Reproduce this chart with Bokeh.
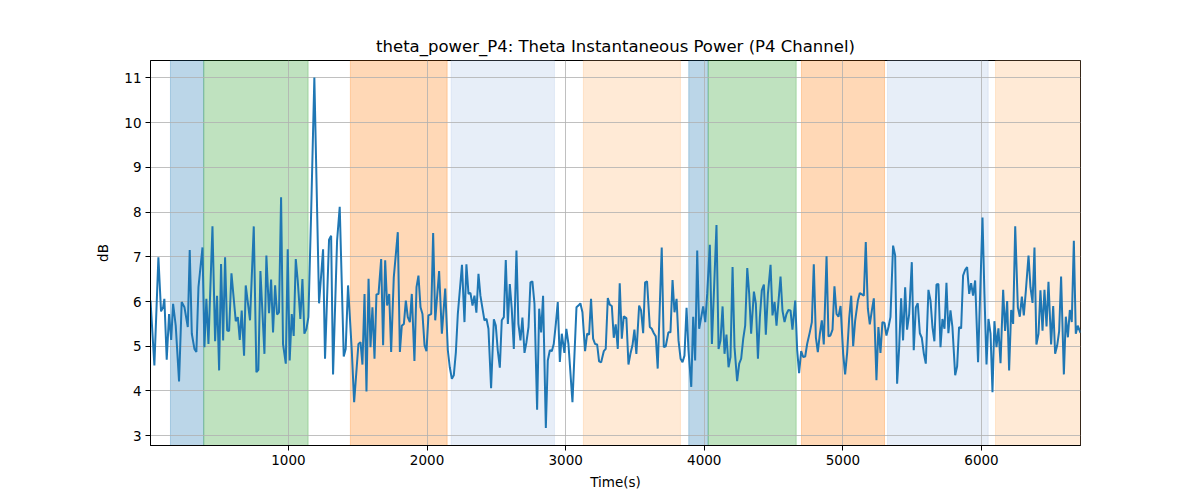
from bokeh.plotting import figure
from bokeh.models import Range1d, FixedTicker, BoxAnnotation
from bokeh.embed import file_html
from bokeh.resources import INLINE

# ---- data ----
time_s = [5, 33, 62, 81, 96, 105, 122, 139, 154, 168, 187, 211, 230, 250, 274, 288, 303, 322, 336, 351,
          380, 394, 408, 423, 452, 471, 485, 500, 514, 529, 543, 558, 572, 589, 620, 635, 649, 663, 680, 692,
          723, 750, 769, 783, 798, 827, 841, 860, 875, 889, 904, 918, 932, 947, 961, 981, 995, 1009, 1024, 1038,
          1053, 1067, 1086, 1101, 1115, 1130, 1144, 1163, 1187, 1221, 1250, 1264, 1293, 1308, 1322, 1351, 1370, 1399, 1413, 1430,
          1457, 1474, 1505, 1520, 1534, 1549, 1563, 1578, 1592, 1606, 1621, 1635, 1650, 1669, 1683, 1698, 1712, 1727, 1741, 1760,
          1789, 1804, 1818, 1833, 1847, 1861, 1876, 1890, 1909, 1924, 1938, 1953, 1967, 1982, 1996, 2010, 2030, 2044, 2059, 2087,
          2107, 2131, 2150, 2164, 2179, 2193, 2208, 2222, 2252, 2270, 2284, 2299, 2313, 2328, 2342, 2356, 2371, 2385, 2400, 2414,
          2429, 2443, 2462, 2482, 2496, 2510, 2525, 2539, 2554, 2568, 2583, 2597, 2611, 2626, 2645, 2659, 2674, 2688, 2703, 2717,
          2732, 2746, 2760, 2775, 2794, 2809, 2823, 2837, 2857, 2871, 2886, 2900, 2914, 2929, 2943, 2958, 2972, 2991, 3005, 3020,
          3049, 3078, 3092, 3106, 3121, 3140, 3155, 3169, 3183, 3198, 3212, 3227, 3241, 3256, 3275, 3289, 3304, 3318, 3333, 3347,
          3361, 3376, 3390, 3405, 3419, 3438, 3453, 3467, 3482, 3496, 3510, 3530, 3544, 3559, 3573, 3587, 3607, 3621, 3636, 3650,
          3664, 3693, 3708, 3722, 3741, 3756, 3771, 3785, 3800, 3814, 3829, 3843, 3857, 3872, 3886, 3906, 3920, 3934, 3949, 3963,
          3978, 3992, 4007, 4021, 4040, 4055, 4069, 4088, 4103, 4117, 4132, 4146, 4160, 4175, 4189, 4204, 4218, 4237, 4252, 4266,
          4281, 4295, 4310, 4324, 4338, 4358, 4372, 4387, 4401, 4415, 4430, 4444, 4459, 4478, 4492, 4507, 4521, 4550, 4564, 4579,
          4593, 4607, 4622, 4636, 4656, 4670, 4684, 4699, 4713, 4728, 4742, 4761, 4776, 4790, 4805, 4819, 4834, 4848, 4862, 4882,
          4896, 4910, 4925, 4939, 4954, 4968, 4983, 5002, 5016, 5031, 5045, 5060, 5074, 5088, 5108, 5122, 5137, 5151, 5165, 5180,
          5194, 5209, 5223, 5242, 5256, 5271, 5285, 5300, 5314, 5329, 5343, 5362, 5377, 5391, 5406, 5420, 5434, 5449, 5463, 5478,
          5497, 5511, 5526, 5540, 5555, 5569, 5584, 5598, 5617, 5632, 5646, 5660, 5675, 5689, 5704, 5718, 5733, 5747, 5761, 5776,
          5790, 5810, 5824, 5838, 5853, 5867, 5882, 5896, 5911, 5925, 5939, 5954, 5975, 6007, 6021, 6036, 6050, 6065, 6079, 6093,
          6108, 6122, 6137, 6156, 6170, 6185, 6199, 6214, 6228, 6243, 6262, 6276, 6291, 6305, 6320, 6339, 6353, 6368, 6382, 6396,
          6411, 6425, 6440, 6454, 6469, 6483, 6502, 6517, 6531, 6546, 6560, 6574, 6594, 6608, 6623, 6637, 6651, 6666, 6680, 6694,
          6714]

power_db = [6.02, 4.57, 6.99, 5.78, 5.87, 6.06, 4.70, 5.72, 5.14, 5.95, 5.46, 4.21, 5.99, 5.87, 5.43, 7.15, 5.28, 4.94, 4.87, 6.32,
            7.21, 4.98, 6.06, 5.05, 7.68, 5.11, 6.13, 4.46, 6.84, 5.13, 6.99, 5.35, 5.34, 6.63, 5.56, 5.65, 5.14, 5.80, 4.79, 6.36,
            5.58, 7.68, 4.42, 4.47, 6.68, 4.83, 7.03, 5.74, 6.49, 5.31, 6.36, 5.71, 5.76, 8.33, 5.05, 4.61, 7.17, 4.68, 5.72, 5.23,
            6.95, 6.47, 5.61, 6.50, 5.28, 5.39, 5.65, 7.88, 11.01, 5.96, 7.17, 4.72, 7.38, 7.47, 4.37, 7.36, 8.12, 4.77, 4.94, 6.36,
            4.91, 3.75, 5.05, 5.09, 4.59, 6.17, 3.99, 6.51, 4.98, 5.87, 4.72, 6.16, 6.17, 6.95, 5.02, 6.92, 5.91, 6.17, 4.87, 6.54,
            7.55, 4.87, 5.46, 5.50, 6.02, 5.65, 5.54, 6.17, 4.67, 6.32, 6.58, 5.87, 5.72, 5.02, 4.89, 5.69, 5.72, 7.53, 5.58, 6.68,
            5.28, 6.29, 4.91, 4.53, 4.27, 4.35, 4.87, 5.72, 6.82, 5.54, 6.83, 6.17, 6.19, 5.91, 6.13, 5.75, 6.62, 6.13, 5.84, 5.58,
            5.61, 5.39, 4.06, 5.60, 5.46, 4.91, 4.52, 5.58, 5.65, 6.93, 5.50, 6.39, 5.84, 4.94, 7.14, 5.50, 5.13, 5.64, 4.85, 5.09,
            5.43, 6.43, 6.45, 5.95, 3.58, 5.84, 5.31, 6.13, 3.17, 4.68, 4.91, 4.89, 5.05, 5.50, 5.99, 4.65, 5.28, 4.85, 5.39, 5.05,
            3.75, 5.87, 5.91, 5.96, 5.76, 4.89, 5.28, 5.26, 6.06, 5.17, 5.05, 5.04, 4.66, 4.64, 4.89, 4.94, 6.08, 5.93, 5.90, 5.19,
            5.49, 4.94, 6.41, 5.17, 5.67, 5.63, 4.59, 4.83, 5.02, 5.37, 4.83, 5.91, 5.80, 5.29, 6.43, 6.45, 5.43, 5.39, 5.29, 5.22,
            4.50, 7.21, 4.98, 5.00, 5.31, 5.31, 6.48, 5.76, 6.06, 5.13, 4.72, 4.64, 4.79, 5.86, 4.91, 4.09, 5.66, 4.68, 7.14, 5.39,
            5.65, 5.89, 5.54, 6.17, 7.27, 5.05, 6.17, 7.71, 4.94, 5.13, 5.89, 4.83, 5.26, 4.53, 4.76, 6.77, 4.98, 4.22, 4.61, 4.72,
            5.17, 5.46, 6.75, 6.17, 5.28, 6.22, 5.95, 4.72, 5.65, 6.25, 6.38, 5.26, 6.17, 6.82, 5.69, 5.99, 5.46, 6.56, 5.80, 5.54,
            5.72, 5.81, 5.80, 5.37, 6.02, 4.92, 4.40, 4.89, 4.76, 4.77, 5.05, 5.31, 5.54, 6.83, 5.20, 4.87, 5.28, 5.58, 5.04, 7.01,
            5.22, 5.24, 5.37, 6.34, 5.72, 5.66, 5.90, 4.83, 4.37, 4.87, 5.61, 6.13, 5.00, 5.56, 6.02, 6.19, 6.16, 6.13, 7.33, 5.84,
            5.49, 5.80, 6.07, 4.24, 5.43, 4.85, 5.54, 5.52, 5.24, 5.43, 5.65, 7.25, 7.03, 4.16, 4.98, 6.07, 5.13, 6.32, 5.37, 5.72,
            6.88, 4.91, 5.87, 5.96, 5.29, 5.19, 4.83, 4.61, 6.26, 6.02, 5.43, 5.11, 6.38, 6.39, 4.98, 5.61, 5.39, 6.42, 5.29, 5.80,
            5.43, 4.35, 4.55, 5.43, 5.40, 6.58, 6.71, 6.77, 6.17, 6.41, 6.13, 6.47, 4.64, 7.88, 6.17, 4.59, 5.61, 5.28, 3.97, 5.56,
            4.98, 5.40, 4.62, 6.26, 5.34, 6.01, 4.46, 5.81, 5.50, 7.68, 5.87, 5.66, 6.11, 5.69, 6.25, 7.03, 6.32, 5.97, 7.21, 5.04,
            5.28, 6.25, 5.35, 6.26, 5.44, 6.44, 5.04, 5.90, 4.83, 5.02, 5.34, 6.56, 4.37, 5.66, 5.20, 5.81, 5.54, 7.36, 5.28, 5.46,
            5.30]

# shaded segments (start, end in seconds) and their colours
span_start = [149, 389, 1447, 2174, 3128, 3888, 4028, 4701, 5322, 6101]
span_end = [389, 1142, 2145, 2919, 3828, 4028, 4663, 5300, 6048, 6714]
span_color = ["#1f77b4", "#2ca02c", "#ff7f0e", "#aec7e8", "#ffbb78",
              "#1f77b4", "#2ca02c", "#ff7f0e", "#aec7e8", "#ffbb78"]

x_ticks = [1000, 2000, 3000, 4000, 5000, 6000]
y_ticks = [3, 4, 5, 6, 7, 8, 9, 10, 11]

FONT = "DejaVu Sans"

p = figure(width=1200, height=500, output_backend="svg", toolbar_location=None,
           x_range=Range1d(5, 6714), y_range=Range1d(2.78, 11.39),
           title="theta_power_P4: Theta Instantaneous Power (P4 Channel)")
p.min_border_left = 150
p.min_border_right = 120
p.min_border_top = 60
p.min_border_bottom = 55
p.background_fill_color = "white"
p.border_fill_color = "white"
p.outline_line_color = "black"
p.outline_line_width = 1
p.outline_line_alpha = 1

p.title.align = "center"
p.title.text_font = FONT
p.title.text_font_size = "16.5px"
p.title.text_font_style = "normal"
p.title.text_color = "black"

for s, e, c in zip(span_start, span_end, span_color):
    p.add_layout(BoxAnnotation(left=s, right=e, fill_color=c, fill_alpha=0.3,
                               line_color=c, line_alpha=0.3, line_width=1, level="image"))

p.line(time_s, power_db, line_color="#1f77b4", line_width=2)

p.xaxis.ticker = FixedTicker(ticks=x_ticks)
p.yaxis.ticker = FixedTicker(ticks=y_ticks)
p.xaxis.axis_label = "Time(s)"
p.yaxis.axis_label = "dB"
for ax in (p.xaxis, p.yaxis):
    ax.axis_label_text_font = FONT
    ax.axis_label_text_font_size = "13.5px"
    ax.axis_label_text_font_style = "normal"
    ax.axis_label_text_color = "black"
    ax.major_label_text_font = FONT
    ax.major_label_text_font_size = "13.5px"
    ax.major_label_text_color = "black"
    ax.major_tick_in = 0
    ax.major_tick_out = 5
    ax.minor_tick_in = 0
    ax.minor_tick_out = 0
    ax.axis_line_color = "black"
    ax.major_tick_line_color = "black"
    ax.major_label_standoff = 4
p.xaxis.axis_label_standoff = 6
p.yaxis.axis_label_standoff = 10

p.grid.grid_line_color = "#b0b0b0"
p.grid.grid_line_width = 0.8

open("out.html", "w").write(file_html(p, INLINE))
